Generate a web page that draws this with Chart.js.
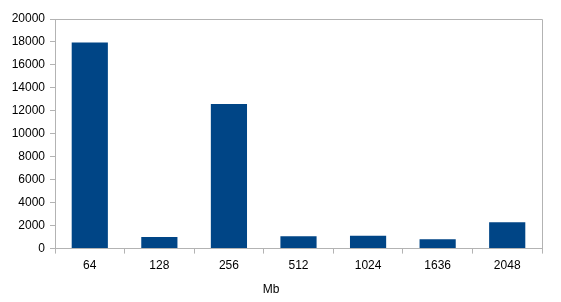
<!DOCTYPE html>
<html>
<head>
<meta charset="utf-8">
<script src="https://cdn.jsdelivr.net/npm/chart.js@4/dist/chart.umd.min.js"></script>
<style>
  html, body { margin: 0; padding: 0; background: #fff; }
  #wrap { width: 561px; height: 302px; }
</style>
</head>
<body>
<div id="wrap"><canvas id="chart" width="561" height="302"></canvas></div>
<script>
// Chart data
const categories = ['64', '128', '256', '512', '1024', '1636', '2048'];
const values = [17950, 1000, 12600, 1070, 1130, 810, 2290];
const yTicks = [0, 2000, 4000, 6000, 8000, 10000, 12000, 14000, 16000, 18000, 20000];
const axisTitle = 'Mb';

const lineColor = '#b3b3b3';
const textColor = '#000';
const fontFamily = '"Liberation Sans", Arial, sans-serif';

// Frame around the plot area (top and right lines)
const frame = {
    id: 'frame',
    afterDatasetsDraw(chart) {
        const { ctx, chartArea } = chart;
        ctx.save();
        ctx.strokeStyle = lineColor;
        ctx.lineWidth = 1;
        ctx.beginPath();
        ctx.moveTo(chartArea.left, chartArea.top + 0.5);
        ctx.lineTo(chartArea.right + 0.5, chartArea.top + 0.5);
        ctx.lineTo(chartArea.right + 0.5, chartArea.bottom);
        ctx.stroke();
        ctx.restore();
    }
};

new Chart(document.getElementById('chart'), {
    type: 'bar',
    data: {
        labels: categories,
        datasets: [{
            data: values,
            backgroundColor: '#004586',
            borderWidth: 0,
            barPercentage: 0.52,
            categoryPercentage: 1
        }]
    },
    options: {
        responsive: false,
        animation: false,
        layout: { padding: { left: 0, top: 19, right: 19, bottom: 5 } },
        plugins: {
            legend: { display: false },
            tooltip: { enabled: false },
            title: {
                display: true,
                position: 'bottom',
                text: axisTitle,
                color: textColor,
                padding: 0,
                font: { family: fontFamily, size: 12, weight: 'normal' }
            }
        },
        scales: {
            x: {
                offset: true,
                grid: { display: true, drawOnChartArea: false, drawTicks: true, tickLength: 5, color: lineColor, offset: true },
                border: { display: true, color: lineColor },
                ticks: { color: textColor, padding: 5, maxRotation: 0, font: { family: fontFamily, size: 12 } },
                afterFit(scale) { scale.height = 34; }
            },
            y: {
                min: 0,
                max: 20000,
                afterBuildTicks(scale) { scale.ticks = yTicks.map(v => ({ value: v })); },
                grid: { display: true, drawOnChartArea: false, drawTicks: true, tickLength: 5, color: lineColor },
                border: { display: true, color: lineColor },
                ticks: {
                    color: textColor,
                    padding: 5,
                    font: { family: fontFamily, size: 12 },
                    callback: v => String(v)
                },
                afterFit(scale) { scale.width = 55; }
            }
        }
    },
    plugins: [frame]
});
</script>
</body>
</html>
